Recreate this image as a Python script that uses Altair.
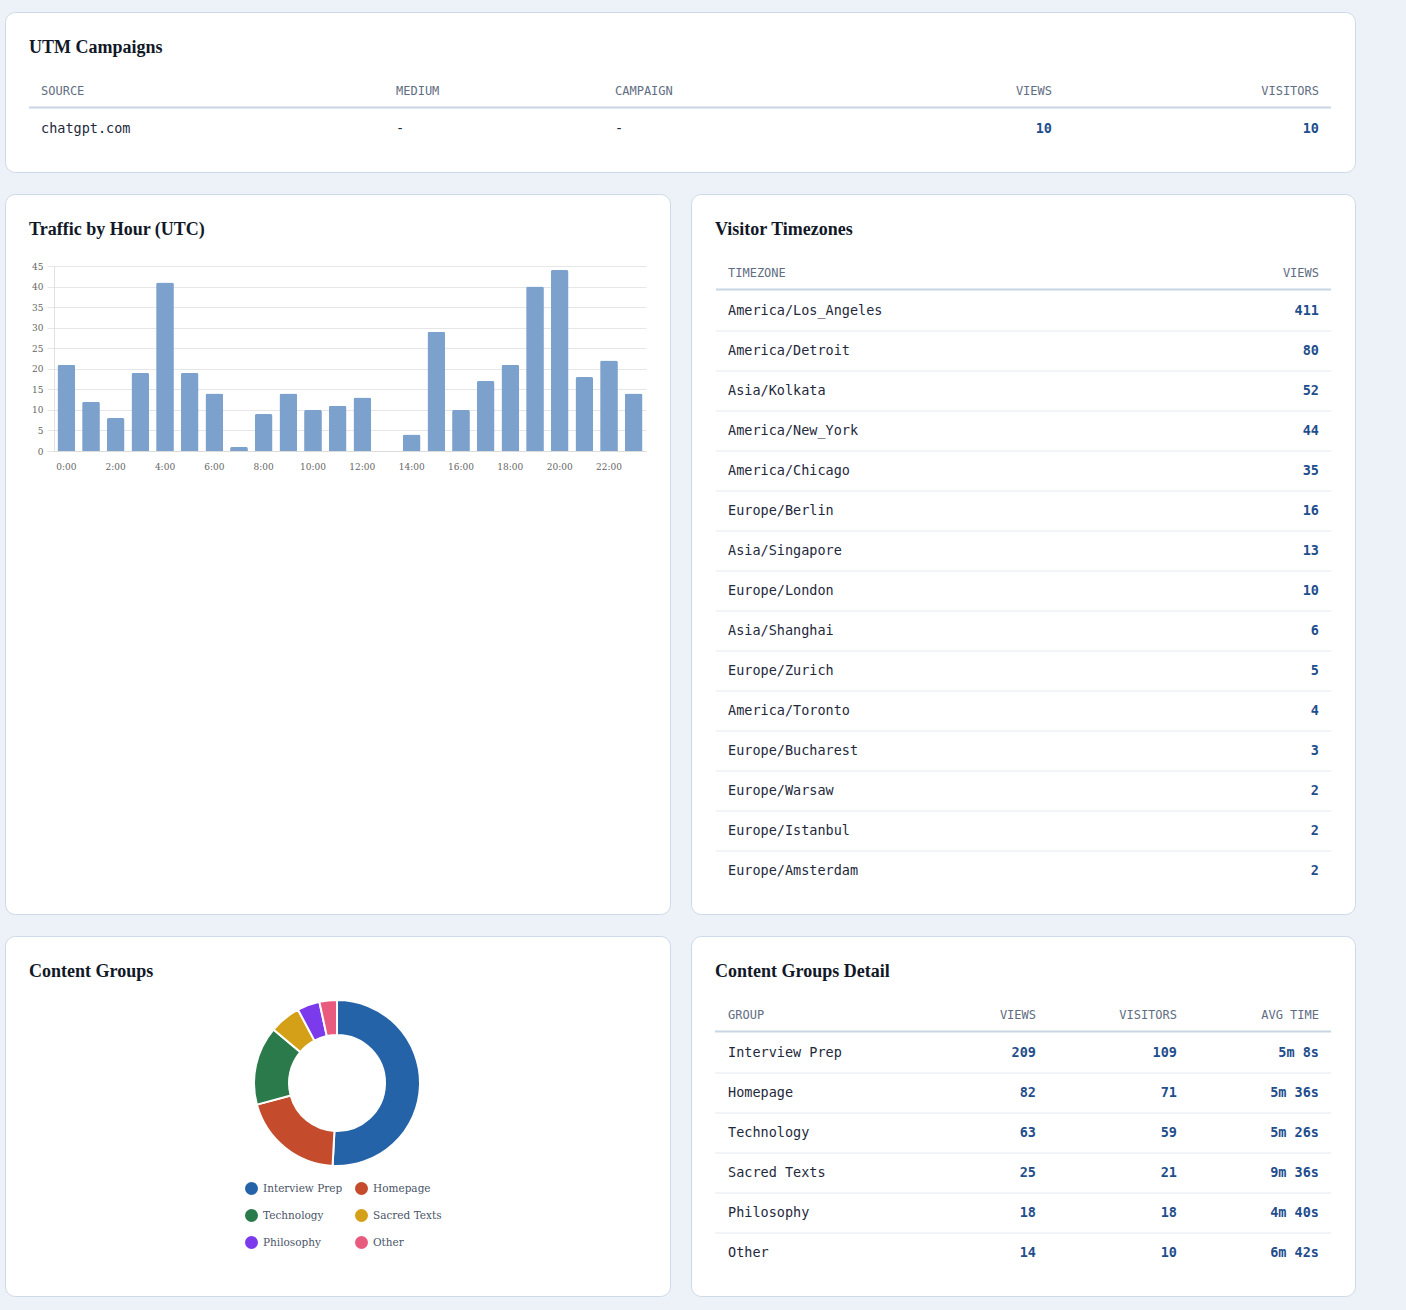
import altair as alt
import pandas as pd

# ---------------- data ----------------
utm_source = ["chatgpt.com"]
utm_medium = ["-"]
utm_campaign = ["-"]
utm_views = [10]
utm_visitors = [10]

hour_labels = [f"{h}:00" for h in range(24)]
hour_views = [21, 12, 8, 19, 41, 19, 14, 1, 9, 14, 10, 11, 13, 0, 4, 29, 10, 17, 21, 40, 44, 18, 22, 14]
hour_y_ticks = [0, 5, 10, 15, 20, 25, 30, 35, 40, 45]
hour_x_ticks = ["0:00", "2:00", "4:00", "6:00", "8:00", "10:00", "12:00",
                "14:00", "16:00", "18:00", "20:00", "22:00"]

tz_names = ["America/Los_Angeles", "America/Detroit", "Asia/Kolkata", "America/New_York",
            "America/Chicago", "Europe/Berlin", "Asia/Singapore", "Europe/London",
            "Asia/Shanghai", "Europe/Zurich", "America/Toronto", "Europe/Bucharest",
            "Europe/Warsaw", "Europe/Istanbul", "Europe/Amsterdam"]
tz_views = [411, 80, 52, 44, 35, 16, 13, 10, 6, 5, 4, 3, 2, 2, 2]

cg_groups = ["Interview Prep", "Homepage", "Technology", "Sacred Texts", "Philosophy", "Other"]
cg_views = [209, 82, 63, 25, 18, 14]
cg_visitors = [109, 71, 59, 21, 18, 10]
cg_avg_time = ["5m 8s", "5m 36s", "5m 26s", "9m 36s", "4m 40s", "6m 42s"]
cg_colors = ["#2563a8", "#c44b2c", "#2a7a4b", "#d4a017", "#7c3aed", "#e85b7e"]

# ---------------- styles ----------------
BG = "#edf1f8"
BORDER = "#cdd9e7"
TITLE_FONT = "Liberation Serif"
MONO = "DejaVu Sans Mono"
SERIF = "DejaVu Serif"
TITLE_COLOR = "#111827"
HEAD_COLOR = "#5f6e82"
TEXT_COLOR = "#1e293b"
VALUE_COLOR = "#1f4e8c"
HEAD_LINE = "#c8d5e3"
SEP_LINE = "#e2e9f1"

ROW_Y = alt.Scale(domain=[0, 1], range=[117, 157], nice=False, zero=False)


def title_layer(text):
    return alt.Chart(pd.DataFrame({"t": [text]})).mark_text(
        align="left", baseline="middle", font=TITLE_FONT, fontSize=18,
        fontWeight="bold", color=TITLE_COLOR
    ).encode(x=alt.value(24), y=alt.value(36), text="t:N")


def hline(x0, x1, y, color, width):
    return alt.Chart(pd.DataFrame({"k": [0]})).mark_rule(
        color=color, strokeWidth=width
    ).encode(x=alt.value(x0), x2=alt.value(x1), y=alt.value(y))


def header(text, x, align):
    return alt.Chart(pd.DataFrame({"t": [text]})).mark_text(
        align=align, baseline="middle", font=MONO, fontSize=12, color=HEAD_COLOR
    ).encode(x=alt.value(x), y=alt.value(79), text="t:N")


def column(values, x, align, is_value):
    df = pd.DataFrame({"row": list(range(len(values))), "v": [str(v) for v in values]})
    return alt.Chart(df).mark_text(
        align=align, baseline="middle", font=MONO, fontSize=13.5,
        color=VALUE_COLOR if is_value else TEXT_COLOR,
        fontWeight="bold" if is_value else "normal"
    ).encode(x=alt.value(x), y=alt.Y("row:Q", scale=ROW_Y, axis=None), text="v:N")


def separators(n, x0, x1):
    df = pd.DataFrame({"row": list(range(n - 1))})
    return alt.Chart(df).mark_rule(color=SEP_LINE, strokeWidth=1, yOffset=20).encode(
        x=alt.value(x0), x2=alt.value(x1), y=alt.Y("row:Q", scale=ROW_Y, axis=None)
    )


# ---------------- card 1: UTM campaigns ----------------
card1 = alt.layer(
    title_layer("UTM Campaigns"),
    header("SOURCE", 36, "left"),
    header("MEDIUM", 391, "left"),
    header("CAMPAIGN", 610, "left"),
    header("VIEWS", 1047, "right"),
    header("VISITORS", 1314, "right"),
    hline(24, 1326, 95.5, HEAD_LINE, 2),
    column(utm_source, 36, "left", False),
    column(utm_medium, 391, "left", False),
    column(utm_campaign, 610, "left", False),
    column(utm_views, 1047, "right", True),
    column(utm_visitors, 1314, "right", True),
).properties(width=1350, height=160)

# ---------------- card 2: traffic by hour ----------------
df_hours = pd.DataFrame({"hour": hour_labels, "views": hour_views})
bars = alt.Chart(df_hours).mark_bar(
    color="#7ca1cd", cornerRadiusTopLeft=2, cornerRadiusTopRight=2
).encode(
    x=alt.X("hour:N", sort=hour_labels,
            scale=alt.Scale(range=[49, 641], paddingInner=0.28, paddingOuter=0.14),
            axis=alt.Axis(values=hour_x_ticks, offset=-463, labelAngle=0, ticks=False,
                          tickSize=0, labelPadding=11, title=None, grid=False,
                          domainColor="#dcdcdc", labelFont=SERIF, labelFontSize=9,
                          labelColor="#666666")),
    y=alt.Y("views:Q",
            scale=alt.Scale(domain=[0, 45], range=[257, 72], nice=False, zero=True),
            axis=alt.Axis(values=hour_y_ticks, offset=-49, title=None, grid=True,
                          gridColor="#e6e6e6", domainColor="#e0e0e0", tickColor="#e6e6e6",
                          tickSize=7, labelPadding=4, labelFont=SERIF, labelFontSize=9,
                          labelColor="#666666")),
)
card2 = alt.layer(
    title_layer("Traffic by Hour (UTC)"),
    bars,
).properties(width=665, height=720)

# ---------------- card 3: visitor timezones ----------------
card3 = alt.layer(
    title_layer("Visitor Timezones"),
    header("TIMEZONE", 37, "left"),
    header("VIEWS", 628, "right"),
    hline(25, 640, 95.5, HEAD_LINE, 2),
    separators(len(tz_names), 25, 640),
    column(tz_names, 37, "left", False),
    column(tz_views, 628, "right", True),
).properties(width=664, height=720)

# ---------------- card 4: content groups donut ----------------
df_cg = pd.DataFrame({"group": cg_groups, "views": cg_views, "idx": list(range(len(cg_groups)))})
donut = alt.Chart(df_cg).mark_arc(
    innerRadius=48, outerRadius=83, stroke="white", strokeWidth=2
).encode(
    theta=alt.Theta("views:Q", stack=True),
    order=alt.Order("idx:Q"),
    color=alt.Color("group:N", sort=cg_groups,
                    scale=alt.Scale(domain=cg_groups, range=cg_colors),
                    legend=alt.Legend(orient="none", legendX=240, legendY=246, columns=2,
                                      direction="horizontal",
                                      title=None, symbolType="circle", symbolSize=169,
                                      symbolStrokeWidth=0, labelFont=SERIF, labelFontSize=10.5,
                                      labelColor="#4a5568", labelOffset=5, columnPadding=12,
                                      rowPadding=14, padding=0)),
    x=alt.value(332),
    y=alt.value(147),
)
card4 = alt.layer(
    title_layer("Content Groups"),
    donut,
).properties(width=665, height=360)

# ---------------- card 5: content groups detail ----------------
card5 = alt.layer(
    title_layer("Content Groups Detail"),
    header("GROUP", 37, "left"),
    header("VIEWS", 345, "right"),
    header("VISITORS", 486, "right"),
    header("AVG TIME", 628, "right"),
    hline(24, 640, 95.5, HEAD_LINE, 2),
    separators(len(cg_groups), 24, 640),
    column(cg_groups, 37, "left", False),
    column(cg_views, 345, "right", True),
    column(cg_visitors, 486, "right", True),
    column(cg_avg_time, 628, "right", True),
).properties(width=664, height=360)

row3 = alt.hconcat(card4, card5, spacing=19).resolve_scale(color="independent").resolve_legend(color="independent")

chart = alt.vconcat(
    card1,
    alt.hconcat(card2, card3, spacing=19),
    row3,
    spacing=20,
).resolve_scale(color="independent").resolve_legend(color="independent").properties(
    padding={"left": 4, "top": 11, "right": 50, "bottom": 13},
    background=BG,
).configure_view(
    fill="white", stroke=BORDER, strokeWidth=1, cornerRadius=10
)

chart.save("out.html", embed_options={"renderer": "svg", "actions": False})
